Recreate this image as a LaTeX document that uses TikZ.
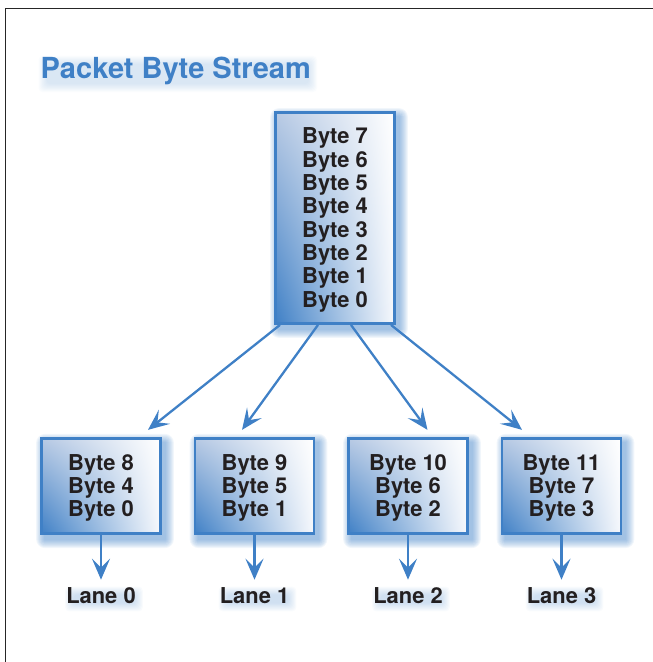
\documentclass[tikz,border=0pt]{standalone}
\usepackage{fontspec}
\setmainfont{TeX Gyre Heros}
\usetikzlibrary{arrows.meta,backgrounds,calc,shadings}
\definecolor{pblue}{HTML}{3F80C6}
\definecolor{pside}{HTML}{B8CAE4}
\definecolor{pfade}{HTML}{F6F8FC}
\definecolor{ptext}{HTML}{231F20}
\tikzset{
  bytebox/.style={draw=pblue,line width=2.8pt,inner sep=0pt,align=center,
    text=ptext,font=\bfseries\fontsize{21.9}{23.3}\selectfont,
    lower left=pblue,upper left=pside,upper right=white,lower right=pfade},
  lanelabel/.style={text=ptext,font=\bfseries\fontsize{21.9}{23}\selectfont,inner sep=0pt},
  titlelabel/.style={text=pblue,font=\bfseries\fontsize{29}{30}\selectfont,inner sep=0pt,anchor=west},
  flow/.style={draw=pblue,line width=2.3pt,-{Stealth[length=21pt,width=18pt,inset=9pt]}},
  framerule/.style={draw=black!85,line width=1.1pt}
}
\newcommand{\softshadow}[5]{% node, dx, dy, steps, opacity
  \foreach \r in {1,...,#4}{
    \fill[pblue,opacity=#5,rounded corners=\r pt]
      ($(#1.south west)+(#2-\r+1,#3+\r-1)$) rectangle ($(#1.north east)+(#2+\r-1,#3-\r+1)$);
  }}
\newcommand{\softhaze}[4]{% node, dx, dy, opacity
  \foreach \r in {-4,-3,...,4}{
    \fill[pblue,opacity=#4,rounded corners=4pt]
      ($(#1.south west)+(#2-\r,#3+\r)$) rectangle ($(#1.north east)+(#2+\r,#3-\r)$);
  }}
\newcommand{\lift}{\rule{0pt}{19.8pt}}
\begin{document}
\begin{tikzpicture}[x=1pt,y=-1pt]
\useasboundingbox (0,0) rectangle (653,662);
\coordinate (fa) at (5.5,662);
\coordinate (fb) at (5.5,8.5);
\coordinate (fc) at (653,8.5);
\draw[framerule] (fa) -- (fb) -- (fc);

\node[titlelabel] (title) at (40.5,71) {Packet Byte Stream};

\node[bytebox,minimum width=119pt,minimum height=211pt] (top) at (335,218) {\lift Byte 7\\Byte 6\\Byte 5\\Byte 4\\Byte 3\\Byte 2\\Byte 1\\Byte 0};

\node[bytebox,minimum width=119pt,minimum height=95.5pt] (b0) at (101,486) {\lift Byte 8\\Byte 4\\Byte 0};
\node[bytebox,minimum width=119pt,minimum height=95.5pt] (b1) at (254.5,486) {\lift Byte 9\\Byte 5\\Byte 1};
\node[bytebox,minimum width=119pt,minimum height=95.5pt] (b2) at (408,486) {\lift Byte 10\\Byte 6\\Byte 2};
\node[bytebox,minimum width=119pt,minimum height=95.5pt] (b3) at (561.5,486) {\lift Byte 11\\Byte 7\\Byte 3};

\node[lanelabel] (l0) at (101,596) {Lane 0};
\node[lanelabel] (l1) at (254.5,596) {Lane 1};
\node[lanelabel] (l2) at (408,596) {Lane 2};
\node[lanelabel] (l3) at (561.5,596) {Lane 3};

\draw[flow] ([xshift=-55pt]top.south) -- ([xshift=47pt,yshift=7pt]b0.north);
\draw[flow] ([xshift=-17pt]top.south) -- ([xshift=-12.5pt,yshift=7pt]b1.north);
\draw[flow] ([xshift=16pt]top.south) -- ([xshift=19.5pt,yshift=7pt]b2.north);
\draw[flow] ([xshift=56pt]top.south) -- ([xshift=-39.5pt,yshift=7pt]b3.north);

\foreach \n/\m in {b0/l0,b1/l1,b2/l2,b3/l3}{
  \draw[flow] (\n.south) -- ([yshift=8pt]\m.north);
}

\begin{pgfonlayer}{background}
  \softshadow{top}{4}{5}{9}{0.07}
  \softshadow{b0}{4}{5}{9}{0.07}
  \softshadow{b1}{4}{5}{9}{0.07}
  \softshadow{b2}{4}{5}{9}{0.07}
  \softshadow{b3}{4}{5}{9}{0.07}
  \softhaze{l0}{3}{3}{0.03}
  \softhaze{l1}{3}{3}{0.03}
  \softhaze{l2}{3}{3}{0.03}
  \softhaze{l3}{3}{3}{0.03}
  \softhaze{title}{2}{3}{0.022}
\end{pgfonlayer}
\end{tikzpicture}
\end{document}
